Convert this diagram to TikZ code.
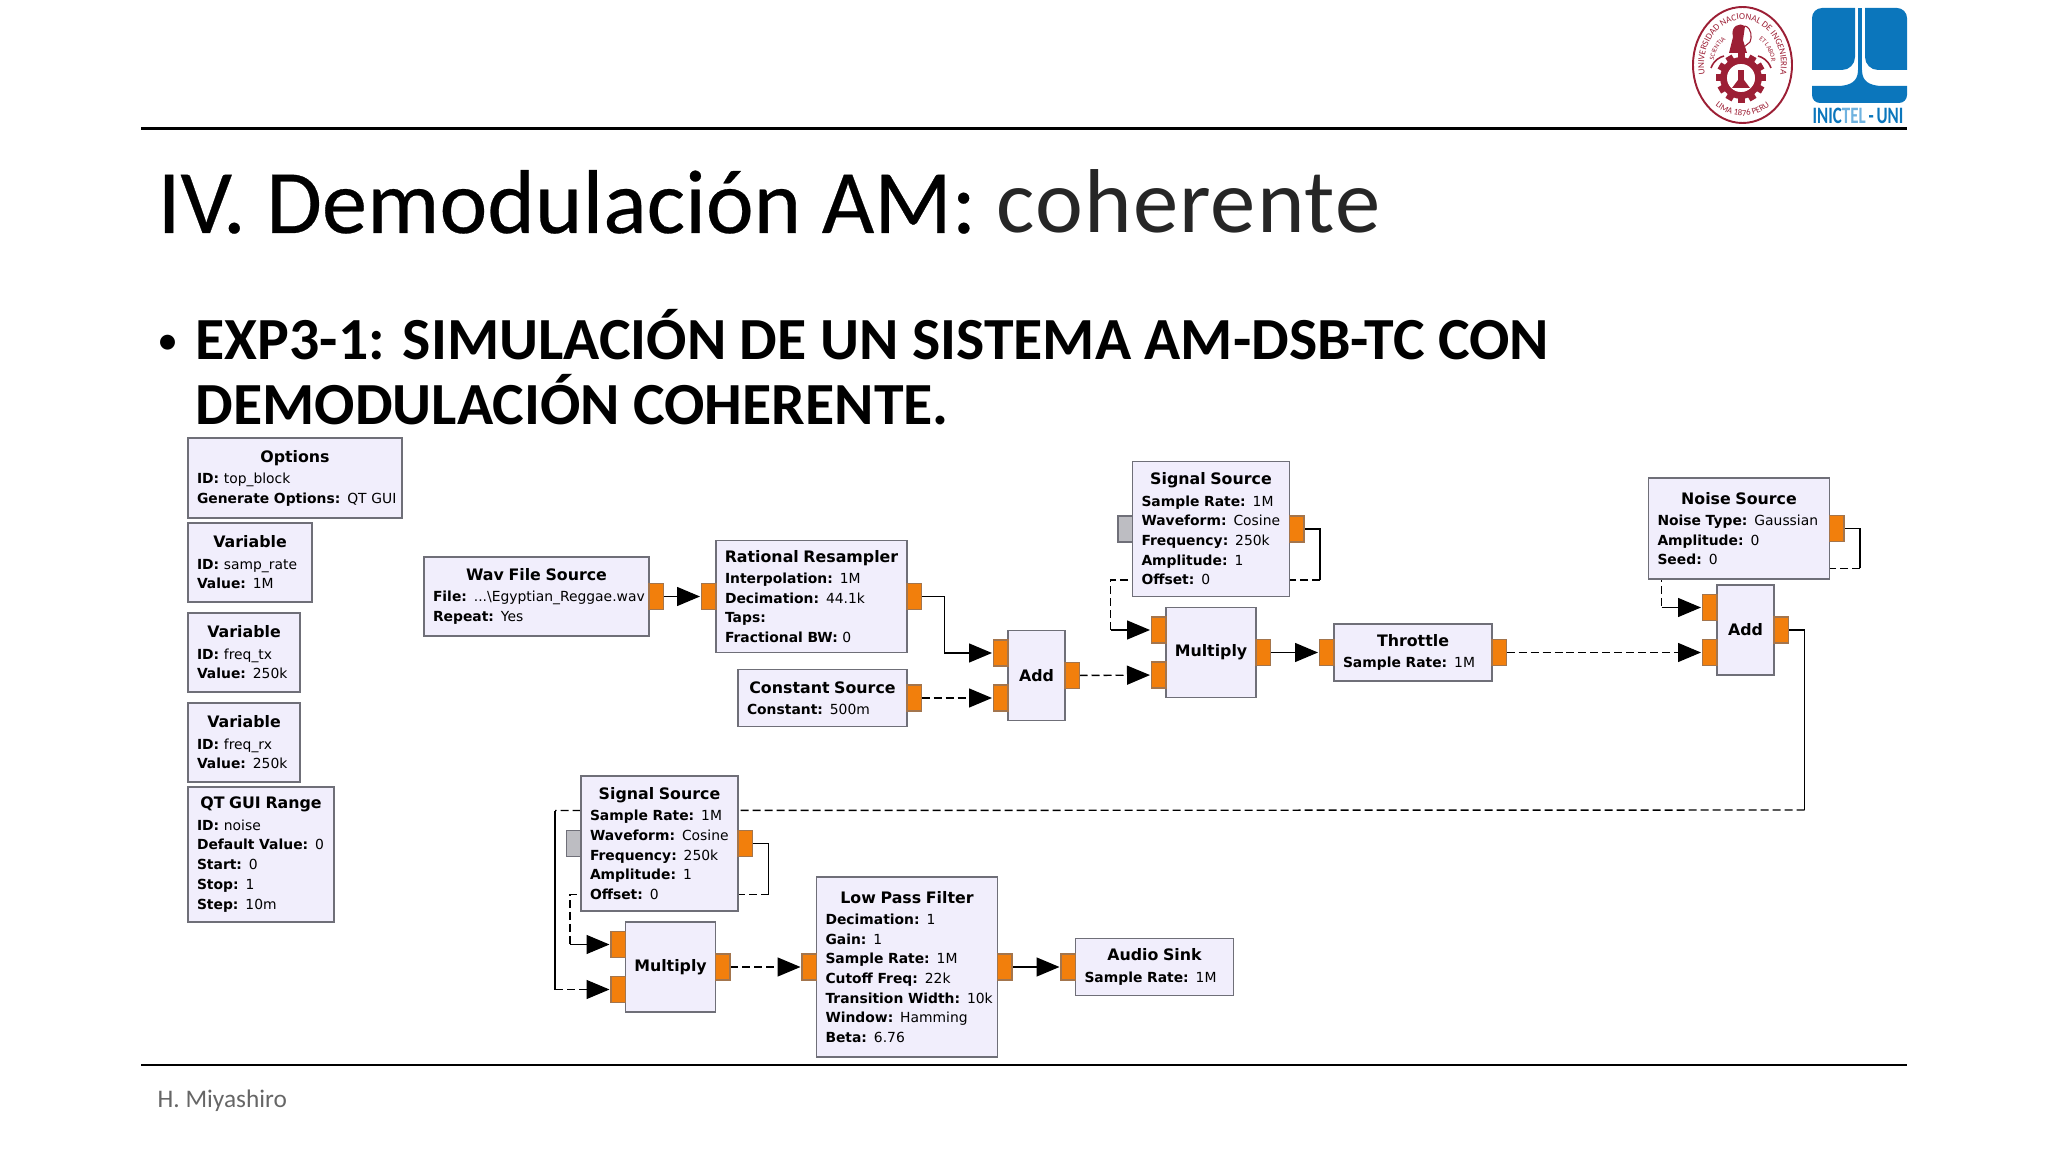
\documentclass[tikz,border=0pt]{standalone}
\usepackage{fontspec}
\setmainfont{Carlito}
\newfontfamily\gruifont[WordSpace=0.8]{DejaVu Sans}
\newfontfamily\lightfont[LetterSpace=1.2]{Carlito}
\newfontfamily\darkfont[FakeBold=0.3]{Carlito}
\usepackage{tikz}
\usetikzlibrary{shapes.geometric}
\usetikzlibrary{positioning}
\usetikzlibrary{calc}
\usetikzlibrary{arrows.meta}
\usetikzlibrary{backgrounds}
\usetikzlibrary{decorations.text}
\definecolor{blockfill}{HTML}{F1EEFC}
\definecolor{blockline}{HTML}{6F6F78}
\definecolor{portfill}{HTML}{F27F0C}
\definecolor{portgray}{HTML}{BDBDC2}
\definecolor{unired}{HTML}{9C1F35}
\definecolor{inictel}{HTML}{0B76BC}
\definecolor{inictellight}{HTML}{6FB2DF}
\newcommand{\blocktitle}[1]{\makebox[\linewidth]{\fontsize{4.5}{5.6}\selectfont\bfseries #1}}

\begin{document}
\begin{tikzpicture}[
    >={Triangle[length=0.23cm,width=0.19cm]},
    every node/.style={font=\gruifont\fontsize{3.95}{5.6}\selectfont},
    block/.style={draw=blockline, line width=0.5pt, fill=blockfill, inner xsep=0.09cm, inner ysep=0pt, outer sep=0pt, align=left},
    port/.style={draw=blockline!60!portfill, line width=0.35pt, fill=portfill, minimum width=0.145cm, minimum height=0.26cm, inner sep=0pt, outer sep=0pt},
    grayport/.style={port, draw=blockline, fill=portgray},
    wire/.style={draw=black, line width=0.4pt},
    dwire/.style={wire, dash pattern=on 0.08cm off 0.04cm},
    tip/.style={wire, ->, shorten >=0.015cm},
    dtip/.style={tip, dash pattern=on 0.08cm off 0.04cm},
    rulebar/.style={line width=0.85pt, black}
]
\useasboundingbox (0,0) rectangle (20.48,-11.52);

% slide frame
\coordinate (topL) at (1.41,-1.285);
\coordinate (topR) at (19.07,-1.285);
\coordinate (botL) at (1.41,-10.65);
\coordinate (botR) at (19.07,-10.65);
\draw[rulebar] (topL) -- (topR);
\draw[rulebar] (botL) -- (botR);
\node[anchor=base west, inner sep=0pt, font=\fontsize{25.8}{30}\selectfont] (title) at (1.57,-2.33) {{\darkfont IV. Demodulación AM:} {\lightfont\color{black!85}coherente}};
\node[anchor=base west, inner sep=0pt, font=\rmfamily\fontsize{12}{14}\selectfont] (bullet) at (1.57,-3.55) {•};
\node[anchor=north west, inner sep=0pt, align=left, font=\rmfamily\bfseries\fontsize{17}{18.5}\selectfont] (heading) at (1.95,-3.09) {EXP3-1: SIMULACIÓN DE UN SISTEMA AM-DSB-TC CON\\DEMODULACIÓN COHERENTE.};
\node[anchor=base west, inner sep=0pt, text=black!60, font=\rmfamily\fontsize{7.2}{9}\selectfont] (author) at (1.57,-11.07) {H. Miyashiro};

% left column
\node[block, text width=1.96cm, minimum height=0.80cm, anchor=north west] (options) at (1.88,-4.38) {\blocktitle{Options}\\[0.5pt]\textbf{ID:} top\_block\\\mbox{\textbf{Generate Options:} QT GUI}};
\node[block, text width=1.06cm, minimum height=0.79cm, below right=0.05cm and 0cm of options.south west] (samprate) {\blocktitle{Variable}\\[0.5pt]\textbf{ID:} samp\_rate\\\textbf{Value:} 1M};
\node[block, text width=0.94cm, minimum height=0.79cm, below right=0.11cm and 0cm of samprate.south west] (freqtx) {\blocktitle{Variable}\\[0.5pt]\textbf{ID:} freq\_tx\\\textbf{Value:} 250k};
\node[block, text width=0.94cm, minimum height=0.79cm, below right=0.11cm and 0cm of freqtx.south west] (freqrx) {\blocktitle{Variable}\\[0.5pt]\textbf{ID:} freq\_rx\\\textbf{Value:} 250k};
\node[block, text width=1.28cm, minimum height=1.35cm, below right=0.05cm and 0cm of freqrx.south west] (range) {\blocktitle{QT GUI Range}\\[0.5pt]\textbf{ID:} noise\\\textbf{Default Value:} 0\\\textbf{Start:} 0\\\textbf{Stop:} 1\\\textbf{Step:} 10m};

% upper chain
\node[block, text width=2.07cm, minimum height=0.79cm, anchor=north west] (wav) at (4.24,-5.57) {\blocktitle{Wav File Source}\\[0.5pt]\mbox{\textbf{File:} ...\textbackslash Egyptian\_Reggae.wav}\\\textbf{Repeat:} Yes};
\node[block, text width=1.73cm, minimum height=1.12cm, right=0.67cm of wav] (resampler) {\blocktitle{Rational Resampler}\\[0.5pt]\textbf{Interpolation:} 1M\\\textbf{Decimation:} 44.1k\\\textbf{Taps:}\\\textbf{Fractional BW:} 0};
\node[block, text width=1.51cm, minimum height=0.57cm, below left=0.17cm and 0cm of resampler.south east] (constant) {\blocktitle{Constant Source}\\[0.5pt]\textbf{Constant:} 500m};
\node[block, text width=0.39cm, minimum height=0.90cm, right=1.01cm of resampler, yshift=-0.79cm] (addA) {\blocktitle{Add}};
\node[block, text width=0.72cm, minimum height=0.90cm, right=1.01cm of addA, yshift=0.23cm] (multA) {\blocktitle{Multiply}};
\node[block, text width=1.39cm, minimum height=1.35cm, above=0.11cm of multA] (sigA) {\blocktitle{Signal Source}\\[0.5pt]\textbf{Sample Rate:} 1M\\\textbf{Waveform:} Cosine\\\textbf{Frequency:} 250k\\\textbf{Amplitude:} 1\\\textbf{Offset:} 0};
\node[block, text width=1.40cm, minimum height=0.57cm, right=0.78cm of multA] (throttle) {\blocktitle{Throttle}\\[0.5pt]\textbf{Sample Rate:} 1M};
\node[block, text width=0.39cm, minimum height=0.90cm, right=2.25cm of throttle, yshift=0.225cm] (addB) {\blocktitle{Add}};
\node[block, text width=1.63cm, minimum height=1.01cm, above=0.06cm of addB, xshift=-0.065cm] (noise) {\blocktitle{Noise Source}\\[0.5pt]\textbf{Noise Type:} Gaussian\\\textbf{Amplitude:} 0\\\textbf{Seed:} 0};

% lower chain
\node[block, text width=1.39cm, minimum height=1.35cm, anchor=north west] (sigB) at (5.81,-7.76) {\blocktitle{Signal Source}\\[0.5pt]\textbf{Sample Rate:} 1M\\\textbf{Waveform:} Cosine\\\textbf{Frequency:} 250k\\\textbf{Amplitude:} 1\\\textbf{Offset:} 0};
\node[block, text width=0.72cm, minimum height=0.90cm, below=0.11cm of sigB, xshift=0.11cm] (multB) {\blocktitle{Multiply}};
\node[block, text width=1.63cm, minimum height=1.80cm, right=1.01cm of multB] (lowpass) {\blocktitle{Low Pass Filter}\\[0.5pt]\textbf{Decimation:} 1\\\textbf{Gain:} 1\\\textbf{Sample Rate:} 1M\\\textbf{Cutoff Freq:} 22k\\\mbox{\textbf{Transition Width:} 10k}\\\textbf{Window:} Hamming\\\textbf{Beta:} 6.76};
\node[block, text width=1.40cm, minimum height=0.57cm, right=0.78cm of lowpass] (sink) {\blocktitle{Audio Sink}\\[0.5pt]\textbf{Sample Rate:} 1M};

% ports
\node[port, right=0pt of wav] (wavout) {};
\node[port, left=0pt of resampler] (resin) {};
\node[port, right=0pt of resampler] (resout) {};
\node[port, right=0pt of constant] (constout) {};
\node[port, left=0pt of addA, yshift=0.225cm] (addAinA) {};
\node[port, left=0pt of addA, yshift=-0.225cm] (addAinB) {};
\node[port, right=0pt of addA] (addAout) {};
\node[grayport, left=0pt of sigA] (sigAfreq) {};
\node[port, right=0pt of sigA] (sigAout) {};
\node[port, left=0pt of multA, yshift=0.225cm] (multAinA) {};
\node[port, left=0pt of multA, yshift=-0.225cm] (multAinB) {};
\node[port, right=0pt of multA] (multAout) {};
\node[port, left=0pt of throttle] (thrin) {};
\node[port, right=0pt of throttle] (throut) {};
\node[port, right=0pt of noise] (noiseout) {};
\node[port, left=0pt of addB, yshift=0.225cm] (addBinA) {};
\node[port, left=0pt of addB, yshift=-0.225cm] (addBinB) {};
\node[port, right=0pt of addB] (addBout) {};
\node[grayport, left=0pt of sigB] (sigBfreq) {};
\node[port, right=0pt of sigB] (sigBout) {};
\node[port, left=0pt of multB, yshift=0.225cm] (multBinA) {};
\node[port, left=0pt of multB, yshift=-0.225cm] (multBinB) {};
\node[port, right=0pt of multB] (multBout) {};
\node[port, left=0pt of lowpass] (lpfin) {};
\node[port, right=0pt of lowpass] (lpfout) {};
\node[port, left=0pt of sink] (sinkin) {};

% connectors
\begin{scope}[on background layer]
\draw[tip] (wavout) -- (resin);
\draw[tip] (resout.east) -- ++(0.23,0) |- (addAinA.west);
\draw[dtip] (constout) -- (addAinB);
\draw[dtip] (addAout) -- (multAinB);
\draw[tip] (multAout) -- (thrin);
\draw[dtip] (throut) -- (addBinB);
\draw[tip] (lpfout) -- (sinkin);
\draw[dtip] (multBout) -- (lpfin);
% signal source loops behind the box
\coordinate (sigAturn) at ($(sigAout.east)+(0.16,-0.51)$);
\draw[wire] (sigAout.east) -| (sigAturn);
\draw[dwire] (sigAturn) -| ($(multAinA.west)+(-0.41,0)$);
\draw[tip] ($(multAinA.west)+(-0.41,0)$) -- (multAinA.west);
\coordinate (noiseturn) at ($(noiseout.east)+(0.16,-0.40)$);
\draw[wire] (noiseout.east) -| (noiseturn);
\draw[dwire] (noiseturn) -| ($(addBinA.west)+(-0.41,0)$);
\draw[tip] ($(addBinA.west)+(-0.41,0)$) -- (addBinA.west);
\coordinate (sigBturn) at ($(sigBout.east)+(0.16,-0.51)$);
\draw[wire] (sigBout.east) -| (sigBturn);
\draw[dwire] (sigBturn) -| ($(multBinA.west)+(-0.41,0)$);
\draw[tip] ($(multBinA.west)+(-0.41,0)$) -- (multBinA.west);
% long return path
\coordinate (returnR) at ($(addBout.east)+(0.16,-1.80)$);
\coordinate (returnL) at ($(multBinB.west)+(-0.56,1.79)$);
\draw[wire] (addBout.east) -| (returnR);
\draw[dwire] (returnR) -- (returnL);
\draw[wire] (returnL) -- ($(multBinB.west)+(-0.56,0)$);
\draw[dtip] ($(multBinB.west)+(-0.56,0)$) -- (multBinB.west);
\end{scope}

% logo of the university
\node[draw=unired, line width=0.55pt, ellipse, minimum width=0.99cm, minimum height=1.16cm, inner sep=0pt] (seal) at (17.425,-0.65) {};
\path[decorate, decoration={text along path, text align=center, text={|\rmfamily\fontsize{2.6}{3}\selectfont\color{unired}|UNIVERSIDAD NACIONAL DE INGENIERIA}}] (17.425,-0.65) ++(215:0.385cm and 0.455cm) arc[start angle=215, end angle=-35, x radius=0.385cm, y radius=0.455cm];
\path[decorate, decoration={text along path, text align=center, text={|\rmfamily\fontsize{2.5}{3}\selectfont\color{unired}|LIMA 1876 PERU}}] (17.425,-0.65) ++(222:0.45cm and 0.51cm) arc[start angle=222, end angle=318, x radius=0.45cm, y radius=0.51cm];
\path[decorate, decoration={text along path, text align=center, text={|\rmfamily\fontsize{1.9}{2}\selectfont\color{unired}|SCIENTIA}}] (17.425,-0.65) ++(178:0.29cm and 0.31cm) arc[start angle=178, end angle=118, x radius=0.29cm, y radius=0.31cm];
\path[decorate, decoration={text along path, text align=center, text={|\rmfamily\fontsize{1.9}{2}\selectfont\color{unired}|ET LABOR}}] (17.425,-0.65) ++(60:0.29cm and 0.31cm) arc[start angle=60, end angle=2, x radius=0.29cm, y radius=0.31cm];
\foreach \a in {0,30,...,330}
  \fill[unired, shift={(17.41,-0.78)}, rotate=\a] (0.17,-0.035) rectangle (0.25,0.035);
\draw[unired, line width=1.9pt] (17.41,-0.78) circle[radius=0.175];
\fill[unired] (17.38,-0.86) rectangle (17.44,-0.70);
\fill[unired] (17.32,-0.88) -- (17.41,-0.76) -- (17.50,-0.88) -- cycle;
\draw[unired, line width=0.45pt] (17.11,-0.68) .. controls (17.14,-0.60) and (17.20,-0.57) .. (17.24,-0.56);
\draw[unired, line width=0.45pt] (17.71,-0.68) .. controls (17.68,-0.60) and (17.62,-0.57) .. (17.58,-0.56);
\fill[unired] (17.33,-0.37) .. controls (17.30,-0.26) and (17.40,-0.22) .. (17.45,-0.26) -- (17.43,-0.40) -- (17.47,-0.53) -- (17.29,-0.53) -- cycle;
\draw[unired, line width=0.3pt] (17.45,-0.26) .. controls (17.52,-0.28) and (17.52,-0.38) .. (17.50,-0.42) -- (17.44,-0.47);

% logo of the institute
\fill[inictel] (18.12,-0.70) [rounded corners=0.10cm] -- (18.12,-0.08) [sharp corners] -- (18.55,-0.08) [rounded corners=0.13cm] -- (18.55,-0.70) [sharp corners] -- cycle;
\fill[inictel] (19.07,-0.70) [rounded corners=0.10cm] -- (19.07,-0.08) [sharp corners] -- (18.65,-0.08) [rounded corners=0.13cm] -- (18.65,-0.70) [sharp corners] -- cycle;
\fill[inictel] (18.58,-0.08) rectangle (18.62,-0.80);
\fill[inictel] (18.12,-0.86) -- (18.40,-0.86) .. controls (18.50,-0.85) and (18.58,-0.82) .. (18.58,-0.70) -- (18.62,-0.70) .. controls (18.62,-0.82) and (18.70,-0.85) .. (18.80,-0.86) -- (19.07,-0.86) [rounded corners=0.08cm] -- (19.07,-1.03) -- (18.12,-1.03) [sharp corners] -- cycle;
\node[anchor=base west, inner sep=0pt, font=\rmfamily\bfseries\fontsize{6.7}{7}\selectfont, text=inictel] (uni) at (18.12,-1.235) {\scalebox{0.72}[1]{INIC\textcolor{inictellight}{TEL}\,-\,UNI}};
\end{tikzpicture}
\end{document}
